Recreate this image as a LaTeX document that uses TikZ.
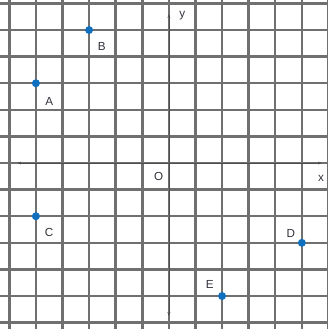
\documentclass[tikz,border=0pt]{standalone}
\usepackage{fontspec}
\setmainfont{Liberation Sans}
\usetikzlibrary{arrows.meta}
\definecolor{gridc}{RGB}{112,112,112}
\definecolor{ptc}{RGB}{16,112,190}
\definecolor{labc}{RGB}{50,50,60}
\tikzset{
  gridline/.style={draw=gridc,line width=2.6pt},
  axisline/.style={draw=gridc!70!black,line width=0.6pt,{Stealth[length=4pt,width=3pt]}-{Stealth[length=4pt,width=3pt]}},
  pt/.style={circle,fill=ptc,inner sep=0pt,minimum size=0.3cm},
  lab/.style={text=labc,font=\fontsize{12.5}{12.5}\selectfont,inner sep=0pt}
}
\begin{document}
\begin{tikzpicture}
\useasboundingbox (-6.35,-6.24) rectangle (5.98,6.13);
\fill[white] (-6.35,-6.24) rectangle (5.98,6.13);
\begin{scope}
\clip (-6.35,-6.24) rectangle (5.98,6.13);
\foreach \k in {-6,...,6} {
  \draw[gridline] (\k,-6.3) -- (\k,6.2);
  \draw[gridline] (-6.4,\k) -- (6.1,\k);
}
\end{scope}
\coordinate (xl) at (-5.7,0);
\coordinate (xr) at (5.75,0);
\coordinate (yb) at (0,-5.75);
\coordinate (yt) at (0,5.6);
\draw[axisline] (xl) -- (xr);
\draw[axisline] (yb) -- (yt);
\node[pt] (A) at (-5,3) {};
\node[pt] (B) at (-3,5) {};
\node[pt] (C) at (-5,-2) {};
\node[pt] (D) at (5,-3) {};
\node[pt] (E) at (2,-5) {};
\coordinate (O) at (0,0);
\node[lab] (lA) at (-4.5,2.3) {A};
\node[lab] (lB) at (-2.52,4.4) {B};
\node[lab] (lC) at (-4.5,-2.6) {C};
\node[lab] (lD) at (4.59,-2.63) {D};
\node[lab] (lE) at (1.54,-4.55) {E};
\node[lab] (lO) at (-0.38,-0.49) {O};
\node[lab] (ly) at (0.5,5.55) {y};
\node[lab] (lx) at (5.72,-0.56) {x};
\end{tikzpicture}
\end{document}
